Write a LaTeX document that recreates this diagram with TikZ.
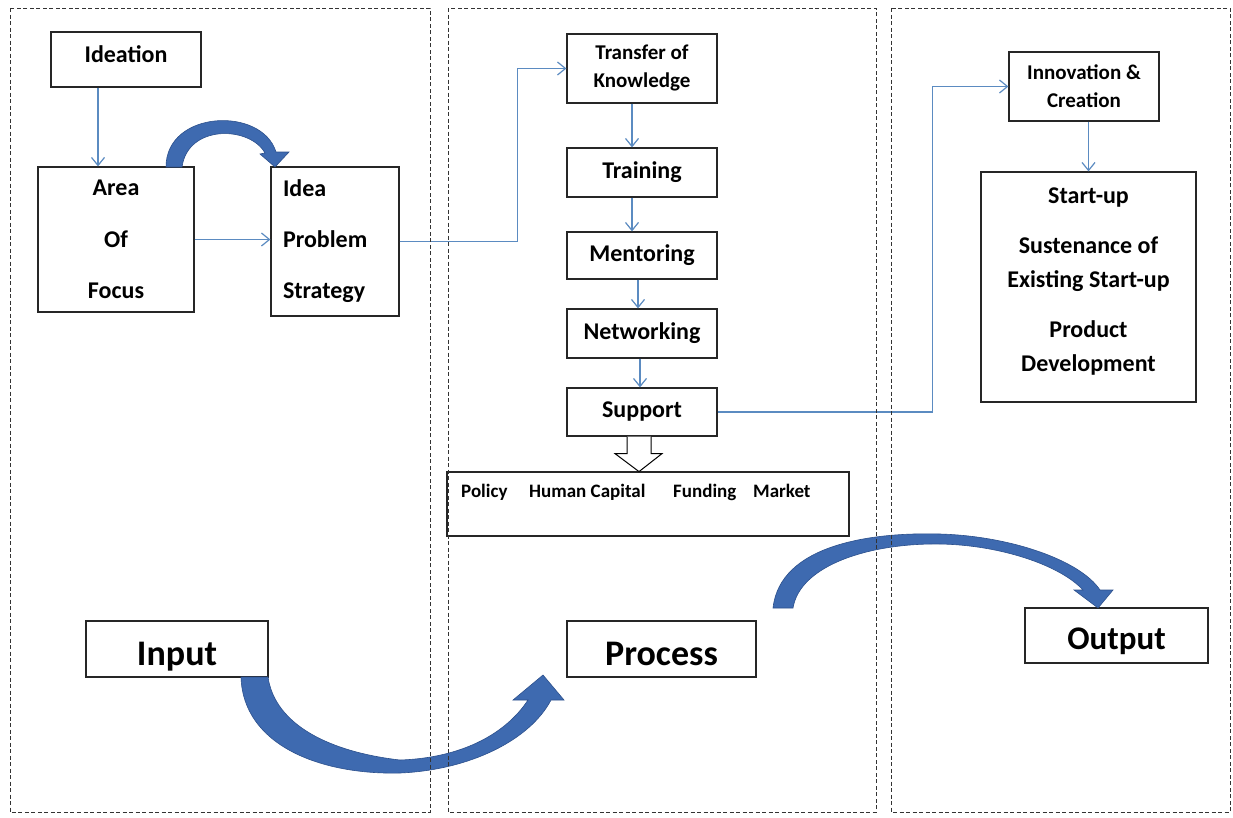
\documentclass[tikz,border=0pt]{standalone}
\usepackage{fontspec}
\setmainfont{Carlito}
\usetikzlibrary{arrows.meta,calc}
\definecolor{linkblue}{RGB}{91,139,193}
\definecolor{arrowblue}{RGB}{62,106,176}
\definecolor{arrowedge}{RGB}{44,80,140}
\begin{document}
\begin{tikzpicture}[x=1pt,y=-1pt,
    box/.style={draw=black!85,line width=1.2pt,fill=white,font=\bfseries\fontsize{24}{28}\selectfont},
    bigbox/.style={box,minimum height=56pt,text height=32pt,text depth=0pt,font=\bfseries\fontsize{36}{40}\selectfont},
    pillar/.style={anchor=base west,inner sep=0pt,font=\bfseries\fontsize{19}{21}\selectfont},
    link/.style={draw=linkblue,line width=1.2pt,-{Straight Barb[length=8pt,width=13pt]}},
    blockarrow/.style={fill=arrowblue,draw=arrowedge,line width=0.6pt},
    panel/.style={draw=black!80,line width=0.8pt,dash pattern=on 4pt off 2.5pt}]
    \fill[white] (0,0) rectangle (1233,817);
    \useasboundingbox (0,0) rectangle (1233,817);
    \node[box,minimum width=150pt,minimum height=55pt,text height=6pt,text depth=0pt] (ideation) at (126,59.5) {Ideation};
    \node[box,minimum width=156pt,minimum height=145pt,align=center,font=\bfseries\fontsize{24}{51.5}\selectfont] (area) at (116,239.5) {Area\\Of\\Focus};
    \node[box,minimum width=128pt,minimum height=149pt,inner xsep=12pt,text width=104pt,align=left,font=\bfseries\fontsize{24}{51}\selectfont] (idea) at (335,241.5) {Idea\\Problem\\Strategy};
    \node[box,minimum width=150pt,minimum height=69pt,align=center,text depth=4pt,font=\bfseries\fontsize{21}{28}\selectfont] (transfer) at (642,68.5) {Transfer of\\Knowledge};
    \node[box,minimum width=150pt,minimum height=49pt] (training) at (642,172.5) {Training};
    \node[box,minimum width=150pt,minimum height=47pt] (mentoring) at (642,255.5) {Mentoring};
    \node[box,minimum width=150pt,minimum height=49pt] (networking) at (642,333.5) {Networking};
    \node[box,minimum width=150pt,minimum height=48pt] (support) at (642,412) {Support};
    \node[box,minimum width=402pt,minimum height=64pt] (pillars) at (648,504) {};
    \node[pillar] (policy) at (461,497) {Policy};
    \node[pillar] (humancap) at (529,497) {Human Capital};
    \node[pillar] (funding) at (673,497) {Funding};
    \node[pillar] (market) at (753,497) {Market};
    \node[box,minimum width=150pt,minimum height=69pt,align=center,font=\bfseries\fontsize{21}{28}\selectfont] (innovation) at (1084,86.5) {Innovation \&\\Creation};
    \node[box,minimum width=215pt,minimum height=230pt] (startup) at (1088.5,287) {};
    \node[align=center,font=\bfseries\fontsize{24}{34}\selectfont] (startuptext) at (1088.5,282) {Start-up\\[16pt]Sustenance of\\Existing Start-up\\[16pt]Product\\Development};
    \node[bigbox,minimum width=182pt] (input) at (177,649) {Input};
    \node[bigbox,minimum width=189pt] (process) at (661.5,649) {Process};
    \node[bigbox,minimum width=183pt,minimum height=55pt,text height=27pt,font=\bfseries\fontsize{33}{36}\selectfont] (output) at (1116.5,635.5) {Output};
    \draw[link] ([xshift=-28pt]ideation.south) -- ([xshift=-18pt]area.north);
    \draw[link] (area.east) -- (area.east -| idea.west);
    \draw[link] (idea.east) -- ++(118,0) |- (transfer.west);
    \draw[link] ([xshift=-10pt]transfer.south) -- ([xshift=-10pt]training.north);
    \draw[link] ([xshift=-10pt]training.south) -- ([xshift=-10pt]mentoring.north);
    \draw[link] ([xshift=-4pt]mentoring.south) -- ([xshift=-4pt]networking.north);
    \draw[link] ([xshift=-2pt]networking.south) -- ([xshift=-2pt]support.north);
    \draw[link] (support.east) -- ++(215,0) |- (innovation.west);
    \draw[link] ([xshift=4.5pt]innovation.south) -- (startup.north);
    \draw[line width=1pt,fill=white] ([xshift=-15pt]support.south) -- ++(0,17) -- ++(-12,0) -- ++(24,18) -- ++(23,-18) -- ++(-11,0) -- ++(0,-17);
    \filldraw[blockarrow] (166,167) .. controls (166,110) and (262,106) .. (276,152) -- (289,152) -- (275,167) -- (260,154) -- (265,153) .. controls (250,126) and (188,124) .. (182,167) -- cycle;
    \filldraw[blockarrow] (241,677) .. controls (243,745) and (320,775) .. (400,773) .. controls (470,770) and (530,740) .. (551,700) -- (564,700) -- (543,675) -- (513,700) -- (528,700) .. controls (505,735) and (460,758) .. (400,760) .. controls (330,752) and (275,725) .. (268,677) -- cycle;
    \filldraw[blockarrow] (773,608) .. controls (780,545) and (870,532) .. (940,534) .. controls (1010,536) and (1080,560) .. (1100,590) -- (1113,590) -- (1098,608) -- (1074,590) -- (1083,590) .. controls (1060,565) and (1000,545) .. (940,544) .. controls (870,543) and (800,565) .. (793,608) -- cycle;
    \draw[panel] (10,8) rectangle (430,812);
    \draw[panel] (448,8) rectangle (876,812);
    \draw[panel] (891,8) rectangle (1230,812);
\end{tikzpicture}
\end{document}
